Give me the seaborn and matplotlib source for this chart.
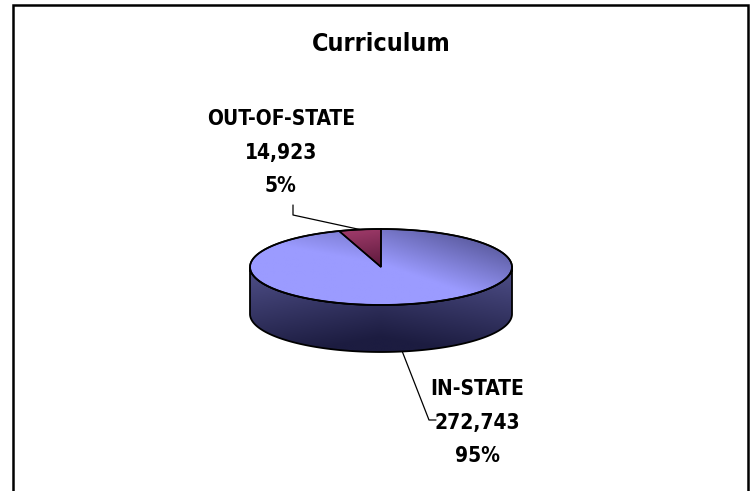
import numpy as np
import matplotlib
matplotlib.use("Agg")
import matplotlib.pyplot as plt
import seaborn as sns
from matplotlib.patches import Polygon
from matplotlib.colors import to_rgb

# ---- data ----
title = "Curriculum"
categories = ["IN-STATE", "OUT-OF-STATE"]
counts = [272743, 14923]

sns.set_theme(style="white")
plt.rcParams['font.family'] = ['DejaVu Sans']
plt.rcParams['font.stretch'] = 'condensed'

fig = plt.figure(figsize=(7.56, 4.91), dpi=100)
ax = fig.add_axes([0, 0, 1, 1])
ax.set_xlim(0, 756)
ax.set_ylim(491, 0)
ax.axis('off')

# border
ax.plot([12.5, 12.5, 748, 748], [495, 4.5, 4.5, 495], color='black', lw=1.8,
        solid_joinstyle='miter', zorder=1)

# pie geometry (layout)
cx, cy, a, b, depth = 381, 267, 131, 38, 47

total = sum(counts)
fracs = [c / total for c in counts]
spans = []
t0 = 90.0
for f in fracs:
    t1 = t0 - 360.0 * f
    spans.append((t0, t1))
    t0 = t1


def pt(t, dz=0.0):
    r = np.deg2rad(t)
    return cx + a * np.cos(r), cy - b * np.sin(r) + dz


def arc(t_from, t_to, dz=0.0, n=200):
    ts = np.linspace(t_from, t_to, n)
    r = np.deg2rad(ts)
    return np.column_stack([cx + a * np.cos(r), cy - b * np.sin(r) + dz])


def grad_fill(poly, func, zorder):
    xs = np.linspace(cx - a - 5, cx + a + 5, 300)
    ys = np.linspace(cy - b - 5, cy + b + depth + 5, 150)
    X, Y = np.meshgrid(xs, ys)
    img = func(X, Y)
    im = ax.imshow(img, extent=[xs[0], xs[-1], ys[-1], ys[0]], origin='upper',
                   zorder=zorder, interpolation='bilinear', aspect='auto')
    im.set_clip_path(poly)
    ax.set_xlim(0, 756)
    ax.set_ylim(491, 0)


def blend(c1, c2, t):
    c1 = np.array(to_rgb(c1)); c2 = np.array(to_rgb(c2))
    t = np.clip(t, 0, 1)[..., None]
    return c1 * (1 - t) + c2 * t


in_top = ('#9b9bff', '#50508f')
in_side = ('#50508a', '#1c1c40')
out_top = ('#a23c6c', '#5a183a')
face_funcs = [
    lambda X, Y: blend(*in_top, ((cy - Y) / b) * 0.55 + ((X - cx) / a) * 0.5
                       + np.abs((X - cx) / a) * 0.15 - 0.05),
    lambda X, Y: blend(*out_top, (Y - (cy - b)) / (b * 1.2) + (X - cx + 40) / 80 * 0.3),
]

# side walls (front half only)
for (s0, s1) in spans:
    hi, lo = max(s0, s1), min(s0, s1)
    for base in (0, -360):
        o_lo, o_hi = max(lo, base - 180), min(hi, base)
        if o_hi > o_lo:
            top = arc(o_lo, o_hi)
            bot = arc(o_hi, o_lo, dz=depth)
            pts = np.vstack([top, bot])
            poly = Polygon(pts, closed=True, facecolor='none', edgecolor='black',
                           lw=1.3, zorder=4)
            ax.add_patch(poly)
            grad_fill(poly, lambda X, Y: blend(*in_side, (Y - cy) / (b + depth) * 0.9
                                               + (1 - np.abs((X - cx) / a)) * 0.25), 3)

# top faces
for i, (s0, s1) in enumerate(spans):
    pts = np.vstack([[cx, cy], arc(s0, s1)])
    poly = Polygon(pts, closed=True, facecolor='none', edgecolor='black',
                   lw=1.1, zorder=6)
    ax.add_patch(poly)
    grad_fill(poly, face_funcs[i], 5)

# outer outline of top ellipse
ell = arc(0, 360, n=400)
ax.plot(ell[:, 0], ell[:, 1], color='black', lw=1.3, zorder=7)

# labels and leader lines
fs = 15
# OUT-OF-STATE
mid_out = (spans[1][0] + spans[1][1]) / 2
px, py = pt(mid_out)
ax.plot([293, 293, px], [205, 215, py], color='black', lw=0.9, zorder=8)
pct = [f"{round(f * 100):d}%" for f in fracs]
out_lines = [categories[1], f"{counts[1]:,}", pct[1]]
for k, s in enumerate(out_lines):
    ax.text(281, 119 + k * 33.5, s, ha='center', va='center', fontsize=fs,
            fontweight='bold', fontstretch='condensed', color='black', zorder=9)

# IN-STATE
mid_in = (spans[0][0] + spans[0][1]) / 2
px, py = pt(mid_in, dz=depth)
ax.plot([px, 429, 436], [py, 420, 420], color='black', lw=0.9, zorder=8)
in_lines = [categories[0], f"{counts[0]:,}", pct[0]]
for k, s in enumerate(in_lines):
    ax.text(477, 389 + k * 33.5, s, ha='center', va='center', fontsize=fs,
            fontweight='bold', fontstretch='condensed', color='black', zorder=9)

ax.text(381, 44, title, ha='center', va='center', fontsize=18,
        fontweight='bold', fontstretch='condensed', color='black', zorder=9)

fig.savefig('out.png', dpi=100)
